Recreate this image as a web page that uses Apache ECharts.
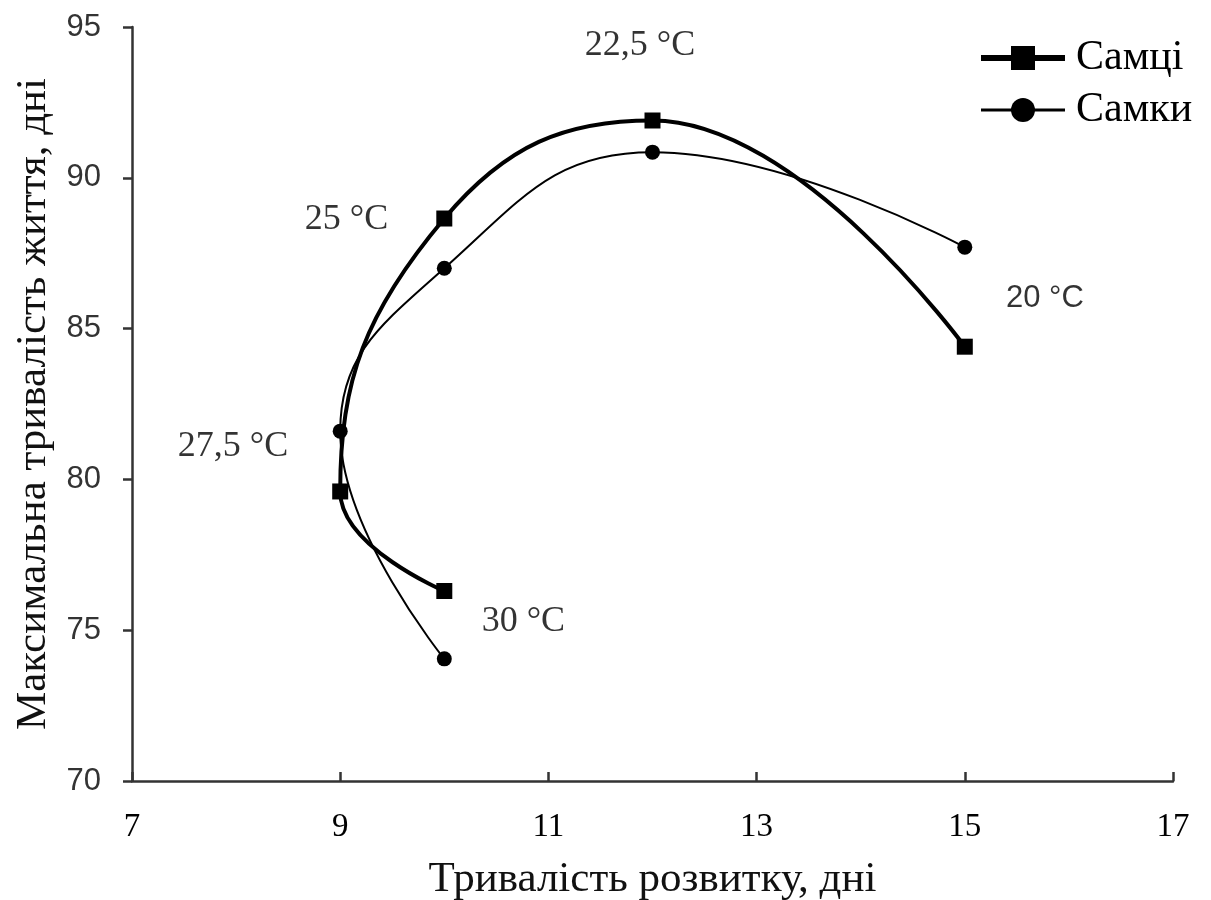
<!DOCTYPE html>
<html>
<head>
<meta charset="utf-8">
<script src="https://cdn.jsdelivr.net/npm/echarts@6/dist/echarts.min.js"></script>
<style>
  html, body { margin: 0; padding: 0; background: #fff; }
  #chart { width: 1211px; height: 900px; }
</style>
</head>
<body>
<div id="chart"></div>
<script>
// Development time (days) for each rearing temperature, in order 20, 22.5, 25, 27.5, 30 °C
const devDays = [15, 12, 10, 9, 10];
// Maximum lifespan (days)
const males = [84.4, 91.9, 88.65, 79.6, 76.3];
const females = [87.7, 90.85, 87.0, 81.6, 74.05];

// Temperature annotations: [x, y, text, font]
const tempLabels = [
  [11.88, 94.4, '22,5 °C', 'serif'],
  [9.06, 88.6, '25 °C', 'serif'],
  [15.77, 86.0, '20 °C', 'sans'],
  [7.97, 81.1, '27,5 °C', 'serif'],
  [10.76, 75.3, '30 °C', 'serif']
];

const xTicks = { min: 7, max: 17, interval: 2 };
const yTicks = { min: 70, max: 95, interval: 5 };

const serif = '"Liberation Serif", "DejaVu Serif", serif';
const sans = '"Liberation Sans", Arial, sans-serif';
const fonts = { serif: serif, sans: sans };

const pairs = (xs, ys) => xs.map((x, i) => [x, ys[i]]);

const chart = echarts.init(document.getElementById('chart'), null, { renderer: 'canvas' });
chart.setOption({
  animation: false,
  backgroundColor: '#fff',
  grid: { left: 132, right: 38, top: 27, bottom: 119, containLabel: false, outerBoundsMode: 'none' },
  legend: {
    data: [
      { name: 'Самці', lineStyle: { width: 6, color: '#000' } },
      { name: 'Самки', lineStyle: { width: 3, color: '#000' } }
    ],
    orient: 'vertical',
    left: 973,
    top: 32,
    itemWidth: 84,
    itemHeight: 30,
    itemGap: 10,
    textStyle: { fontFamily: serif, fontSize: 42, color: '#000', padding: [0, 0, 0, 6] }
  },
  xAxis: {
    type: 'value',
    min: xTicks.min, max: xTicks.max, interval: xTicks.interval,
    name: 'Тривалість розвитку, дні',
    nameLocation: 'middle',
    nameGap: 77,
    nameTextStyle: { fontFamily: serif, fontSize: 43, color: '#111' },
    axisLine: { lineStyle: { color: '#333', width: 2.5 } },
    axisTick: { inside: true, length: 9, lineStyle: { color: '#333', width: 2.5 } },
    axisLabel: { fontFamily: serif, fontSize: 33, color: '#000', margin: 30 },
    splitLine: { show: false }
  },
  yAxis: {
    type: 'value',
    min: yTicks.min, max: yTicks.max, interval: yTicks.interval,
    name: 'Максимальна тривалість життя, дні',
    nameLocation: 'middle',
    nameGap: 76,
    nameRotate: 90,
    nameTextStyle: { fontFamily: serif, fontSize: 43, color: '#111' },
    axisLine: { show: true, lineStyle: { color: '#333', width: 2.5 } },
    axisTick: { show: true, inside: false, length: 9, lineStyle: { color: '#333', width: 2.5 } },
    axisLabel: { fontFamily: sans, fontSize: 31, color: '#333', margin: 31 },
    splitLine: { show: false }
  },
  series: [
    {
      name: 'Самці',
      type: 'line',
      data: pairs(devDays, males),
      smooth: 0.45,
      symbol: 'rect',
      symbolSize: 16,
      lineStyle: { color: '#000', width: 4 },
      itemStyle: { color: '#000' },
      z: 3
    },
    {
      name: 'Самки',
      type: 'line',
      data: pairs(devDays, females),
      smooth: 0.45,
      symbol: 'circle',
      symbolSize: 15,
      lineStyle: { color: '#000', width: 2 },
      itemStyle: { color: '#000' },
      z: 2
    },
    {
      name: 'temps',
      type: 'scatter',
      data: tempLabels.map(d => ({
        value: [d[0], d[1]],
        name: d[2],
        label: { fontFamily: fonts[d[3]], fontSize: d[3] === 'sans' ? 31 : 36 }
      })),
      symbolSize: 0,
      silent: true,
      label: {
        show: true,
        position: 'inside',
        formatter: p => p.name,
        color: '#000'
      }
    }
  ]
});
</script>
</body>
</html>
